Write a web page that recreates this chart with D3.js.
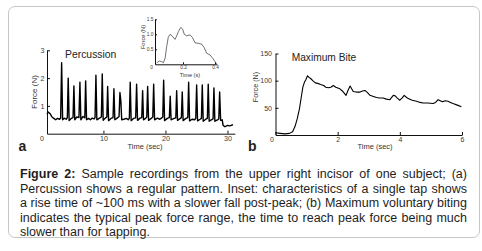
<!DOCTYPE html>
<html>
<head>
<meta charset="utf-8">
<script src="https://cdn.jsdelivr.net/npm/d3@7"></script>
<style>
  body { margin: 0; background: #fff; font-family: 'Liberation Sans', Arial, sans-serif; }
  #container { position: relative; width: 482px; height: 251px; overflow: hidden; }
  #frame { position: absolute; left: 8px; top: 6px; width: 472px; height: 232px; box-sizing: border-box;
           border: 1.6px solid #c6c6c6; border-radius: 7px; }
  #caption { position: absolute; left: 20px; top: 167px; width: 447px; font-size: 12.5px;
             line-height: 14.5px; color: #1e1e1e; }
  #caption div { text-align: justify; text-align-last: justify; white-space: normal; }
  #caption div.last { text-align-last: left; }
  svg { position: absolute; left: 0; top: 0; }
</style>
</head>
<body>
<div id="container">
  <div id="frame"></div>
  <div id="caption"></div>
</div>
<script>
// Figure 2: percussion / maximum bite force recordings

//_____ DATA _____
//>>> (a) Percussion trace: [time (sec), force (N)]
const percussionTrace = [
  [0.9,0.70],[1.1,0.78],[1.4,0.72],[1.7,0.60],[2.0,0.55],[2.3,0.50],[2.6,0.55],[2.9,0.52],[3.1,0.56],
  [3.26,2.55],[3.42,0.50],[3.7,0.56],[4.0,0.52],[4.18,0.58],
  [4.32,2.00],[4.47,0.47],[4.8,0.55],[5.1,0.58],
  [5.24,1.72],[5.38,0.50],[5.7,0.60],[6.05,0.58],
  [6.21,1.85],[6.36,0.50],[6.7,0.62],[7.0,0.57],
  [7.13,1.90],[7.28,0.50],[7.6,0.55],[7.9,0.50],[8.2,0.56],[8.5,0.53],[8.65,0.58],
  [8.79,2.10],[8.94,0.50],[9.3,0.55],[9.67,0.60],
  [9.81,2.15],[9.96,0.48],[10.3,0.56],[10.55,0.60],
  [10.68,1.70],[10.83,0.47],[11.2,0.55],[11.55,0.58],
  [11.69,1.62],[11.84,0.50],[12.2,0.56],[12.52,0.62],
  [12.66,1.48],[12.8,1.20],[12.95,0.50],[13.3,0.52],[13.7,0.55],[14.0,0.50],[14.18,0.56],
  [14.32,1.85],[14.47,0.47],[14.85,0.55],[15.2,0.57],
  [15.35,1.78],[15.5,0.48],[15.9,0.56],[16.18,0.58],
  [16.32,1.55],[16.46,0.50],[16.8,0.55],[16.99,0.60],
  [17.13,1.70],[17.28,0.48],[17.7,0.55],[17.96,0.60],
  [18.10,1.78],[18.25,0.50],[18.7,0.56],[19.1,0.52],[19.4,0.57],[19.57,0.60],
  [19.71,1.92],[19.86,0.47],[20.3,0.55],[20.63,0.58],
  [20.77,1.35],[20.91,0.50],[21.4,0.55],[21.67,0.57],
  [21.81,1.55],[21.95,0.48],[22.4,0.55],[22.57,0.58],
  [22.71,1.50],[22.85,0.47],[23.3,0.55],[23.6,0.58],
  [23.74,1.85],[23.89,0.46],[24.3,0.52],[24.7,0.50],[24.89,0.55],
  [25.03,1.75],[25.18,0.46],[25.6,0.52],[25.8,0.55],
  [25.94,1.75],[26.09,0.45],[26.5,0.52],[26.76,0.55],
  [26.90,1.78],[27.05,0.45],[27.4,0.50],[27.68,0.53],
  [27.82,1.65],[27.97,0.45],[28.4,0.50],[28.6,0.53],
  [28.74,1.50],[28.9,0.48],[29.15,0.50],[29.3,0.30],[29.6,0.25],[30.0,0.30],[30.4,0.28],[30.9,0.33]
];

//>>> Inset: single tap [time (s), force (N)]
const insetTrace = [
  [0.036,0.05],[0.052,0.11],[0.067,0.09],[0.077,0.05],[0.088,0.20],[0.098,0.59],[0.108,0.90],
  [0.119,1.00],[0.133,0.94],[0.150,0.83],[0.160,0.94],[0.171,1.09],[0.186,1.23],[0.198,1.17],
  [0.208,1.00],[0.223,0.95],[0.244,0.98],[0.258,0.90],[0.275,0.72],[0.296,0.70],[0.317,0.67],
  [0.331,0.57],[0.348,0.37],[0.369,0.31],[0.386,0.20],[0.400,0.09],[0.410,0.01]
];

//>>> (b) Maximum bite trace: [time (sec), force (N)]
const biteTrace = [
  [0,4],[0.15,3],[0.3,2],[0.45,3],[0.55,6],[0.63,16],[0.7,30],[0.77,48],[0.83,70],[0.88,88],
  [0.93,97],[0.98,102],[1.03,109],[1.08,106],[1.13,104],[1.2,100],[1.28,96],[1.36,95],[1.45,93],
  [1.55,91],[1.62,88],[1.7,87],[1.78,88],[1.86,91],[1.94,88],[2.07,85],[2.17,80],[2.27,73],
  [2.33,82],[2.4,90],[2.45,85],[2.5,80],[2.6,79],[2.72,79],[2.8,81],[2.88,82],[2.96,78],[3.04,73],
  [3.15,71],[3.25,69],[3.35,68],[3.46,68],[3.57,66],[3.68,65],[3.79,73],[3.85,72],[3.92,68],
  [4.0,64],[4.07,68],[4.14,73],[4.2,70],[4.27,67],[4.4,64],[4.54,62],[4.65,60],[4.75,59],[4.9,59],
  [5.07,58],[5.15,60],[5.23,65],[5.3,63],[5.37,61],[5.46,63],[5.55,62],[5.63,60],[5.71,58],
  [5.85,55],[5.98,52]
];

//>>> Tick values:
const percussionTicksX = [ 0, 10, 20, 30 ];
const percussionTicksY = [ 1, 2, 3 ];
const insetTicksX = [ 0, 0.2, 0.4 ];
const insetTicksY = [ 0.5, 1.0, 1.5 ];
const biteTicksX = [ 0, 2, 4, 6 ];
const biteTicksY = [ 50, 100, 150 ];

//>>> Caption lines:
const captionLines = [
  '<b>Figure 2:</b> Sample recordings from the upper right incisor of one subject; (a)',
  'Percussion shows a regular pattern. Inset: characteristics of a single tap shows',
  'a rise time of ~100 ms with a slower fall post-peak; (b) Maximum voluntary biting',
  'indicates the typical peak force range, the time to reach peak force being much',
  'slower than for tapping.'
];


//_____ SVG _____
const svg = d3.select( '#container' )
  .append( 'svg' )
  .attr( 'width', 482 )
  .attr( 'height', 251 )
  .style( 'font-family', "'Liberation Sans', Arial, sans-serif" );

const tickColor = '#3a3a3a';
const intFormat = d3.format( 'd' );

//>>> Helper to style an axis group
function styleAxis ( g, size ) {
  g.attr( 'font-family', null ).attr( 'font-size', size );
  g.select( '.domain' ).attr( 'stroke', '#111' ).attr( 'stroke-width', 1 );
  g.selectAll( '.tick line' ).attr( 'stroke', '#111' );
  g.selectAll( '.tick text' ).attr( 'fill', tickColor );
}

//>>> Helper to add text
function addText ( x, y, txt, size, opts = {} ) {
  const t = svg.append( 'text' )
    .attr( 'x', x )
    .attr( 'y', y )
    .attr( 'font-size', size )
    .attr( 'fill', opts.fill || '#222' )
    .attr( 'text-anchor', opts.anchor || 'start' )
    .attr( 'font-weight', opts.bold ? 'bold' : null )
    .text( txt );
  if ( opts.rotate ) t.attr( 'transform', `rotate( -90, ${x}, ${y} )` );
  return t;
}


//_____ (a) PERCUSSION _____
const xA = d3.scaleLinear().domain( [ 0.9, 31.2 ] ).range( [ 47, 234.9 ] );
const yA = d3.scaleLinear().domain( [ 0, 3 ] ).range( [ 133.7, 50.3 ] );

svg.append( 'g' )
  .attr( 'transform', `translate( 0, ${yA( 0 )} )` )
  .call( d3.axisBottom( xA ).tickValues( percussionTicksX ).tickFormat( intFormat )
    .tickSizeInner( -3 ).tickSizeOuter( 0 ).tickPadding( 2.5 ) )
  .call( g => styleAxis( g, 7.2 ) )
  .call( g => g.selectAll( '.tick' ).filter( d => d === 0 ).select( 'line' ).remove() );

svg.append( 'g' )
  .attr( 'transform', `translate( ${xA.range()[ 0 ]}, 0 )` )
  .call( d3.axisLeft( yA ).tickValues( percussionTicksY ).tickFormat( intFormat )
    .tickSizeInner( -3 ).tickSizeOuter( 0 ).tickPadding( 2.5 ) )
  .call( g => styleAxis( g, 7.2 ) );

svg.append( 'path' )
  .datum( percussionTrace )
  .attr( 'fill', 'none' )
  .attr( 'stroke', '#000' )
  .attr( 'stroke-width', 1.4 )
  .attr( 'stroke-linejoin', 'round' )
  .attr( 'd', d3.line().x( d => xA( d[ 0 ] ) ).y( d => yA( d[ 1 ] ) ) );

addText( 65, 58.3, 'Percussion', 10.4 );
addText( 37, 92, 'Force (N)', 8, { anchor: 'middle', rotate: true, fill: '#333' } );
addText( 145, 149, 'Time (sec)', 7.5, { anchor: 'middle', fill: '#333' } );
addText( 18.5, 150.5, 'a', 14, { bold: true } );


//_____ INSET _____
const xI = d3.scaleLinear().domain( [ 0.025, 0.4125 ] ).range( [ 155, 217 ] );
const yI = d3.scaleLinear().domain( [ 0, 1.5 ] ).range( [ 64.3, 19.3 ] );

svg.append( 'g' )
  .attr( 'transform', `translate( 0, ${yI( 0 )} )` )
  .call( d3.axisBottom( xI ).tickValues( insetTicksX ).tickFormat( d => d === 0 ? '0' : d.toFixed( 1 ) )
    .tickSizeInner( -2 ).tickSizeOuter( 0 ).tickPadding( 1.2 ) )
  .call( g => styleAxis( g, 4.8 ) )
  .call( g => g.selectAll( '.tick' ).filter( d => d === 0 ).select( 'line' ).remove() );

svg.append( 'g' )
  .attr( 'transform', `translate( ${xI.range()[ 0 ]}, 0 )` )
  .call( d3.axisLeft( yI ).tickValues( insetTicksY ).tickFormat( d3.format( '.1f' ) )
    .tickSizeInner( -2 ).tickSizeOuter( 0 ).tickPadding( 1.5 ) )
  .call( g => styleAxis( g, 4.8 ) );

svg.append( 'path' )
  .datum( insetTrace )
  .attr( 'fill', 'none' )
  .attr( 'stroke', '#333' )
  .attr( 'stroke-width', 0.7 )
  .attr( 'd', d3.line().x( d => xI( d[ 0 ] ) ).y( d => yI( d[ 1 ] ) ) );

addText( 145, 37, 'Force (N)', 5.8, { anchor: 'middle', rotate: true, fill: '#333' } );
addText( 190, 76.5, 'Time (s)', 5.6, { anchor: 'middle', fill: '#333' } );


//_____ (b) MAXIMUM BITE _____
const xB = d3.scaleLinear().domain( [ 0, 6 ] ).range( [ 275.5, 462 ] );
const yB = d3.scaleLinear().domain( [ 0, 150 ] ).range( [ 135, 53.5 ] );

svg.append( 'g' )
  .attr( 'transform', `translate( 0, ${yB( 0 )} )` )
  .call( d3.axisBottom( xB ).tickValues( biteTicksX ).tickFormat( intFormat )
    .tickSizeInner( -3 ).tickSizeOuter( 0 ).tickPadding( 2.5 ) )
  .call( g => styleAxis( g, 7 ) )
  .call( g => g.selectAll( '.tick' ).filter( d => d === 0 ).select( 'text' ).attr( 'dx', -4 ) );

svg.append( 'g' )
  .attr( 'transform', `translate( ${xB( 0 )}, 0 )` )
  .call( d3.axisLeft( yB ).tickValues( biteTicksY ).tickFormat( intFormat )
    .tickSizeInner( -3 ).tickSizeOuter( 0 ).tickPadding( 3.5 ) )
  .call( g => styleAxis( g, 7 ) );

svg.append( 'path' )
  .datum( biteTrace )
  .attr( 'fill', 'none' )
  .attr( 'stroke', '#000' )
  .attr( 'stroke-width', 1.1 )
  .attr( 'stroke-linejoin', 'round' )
  .attr( 'd', d3.line().x( d => xB( d[ 0 ] ) ).y( d => yB( d[ 1 ] ) ) );

addText( 291.7, 60.5, 'Maximum Bite', 10.2 );
addText( 257.5, 87, 'Force (N)', 7.2, { anchor: 'middle', rotate: true, fill: '#333' } );
addText( 375, 149, 'Time (sec)', 7.5, { anchor: 'middle', fill: '#333' } );
addText( 248, 150.5, 'b', 14, { bold: true } );


//_____ CAPTION _____
d3.select( '#caption' )
  .selectAll( 'div' )
  .data( captionLines )
  .enter().append( 'div' )
  .attr( 'class', ( d, i ) => i === captionLines.length - 1 ? 'last' : null )
  .html( d => d );
</script>
</body>
</html>
